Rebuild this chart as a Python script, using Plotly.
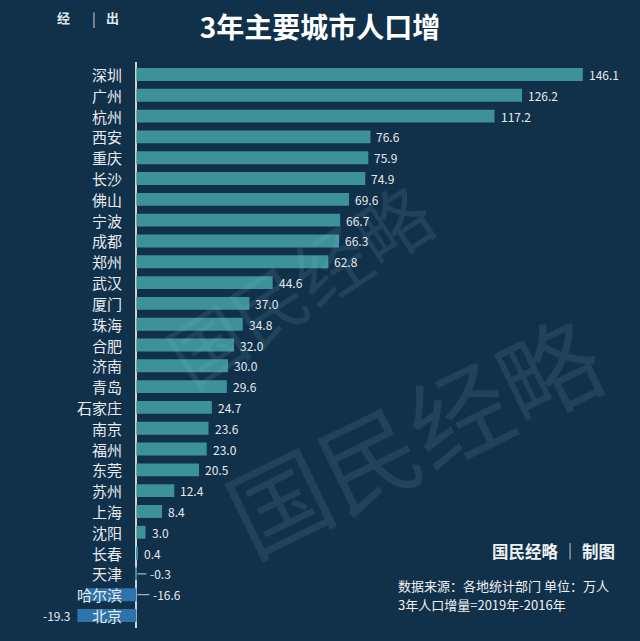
import plotly.graph_objects as go

cities = ["深圳", "广州", "杭州", "西安", "重庆", "长沙", "佛山", "宁波", "成都", "郑州",
          "武汉", "厦门", "珠海", "合肥", "济南", "青岛", "石家庄", "南京", "福州", "东莞",
          "苏州", "上海", "沈阳", "长春", "天津", "哈尔滨", "北京"]
values = [146.1, 126.2, 117.2, 76.6, 75.9, 74.9, 69.6, 66.7, 66.3, 62.8,
          44.6, 37.0, 34.8, 32.0, 30.0, 29.6, 24.7, 23.6, 23.0, 20.5,
          12.4, 8.4, 3.0, 0.4, -0.3, -16.6, -19.3]
highlight = ["哈尔滨", "北京"]

BG = "#11304a"
TEAL = "#3d9199"
BLUE = "#2e73ab"
FONT = "Noto Sans CJK SC"

L, R, T, B = 60, 610, 62, 628  # plot area in pixels

colors = [BLUE if c in highlight else TEAL for c in cities]

fig = go.Figure(go.Bar(
    x=values, y=cities, orientation="h",
    marker=dict(color=colors, line=dict(width=0)),
    hoverinfo="skip",
))

ann = []
shapes = []
for c, v in zip(cities, values):
    ann.append(dict(x=0, y=c, xref="x", yref="y", text=c, showarrow=False,
                    xanchor="right", xshift=-12,
                    font=dict(family=FONT, size=15, color="#e6ebef")))
    if v >= 0:
        ann.append(dict(x=v, y=c, xref="x", yref="y", text=f"{v:.1f}", showarrow=False,
                        xanchor="left", xshift=4,
                        font=dict(family=FONT, size=12, color="#e6ebef")))
    elif v > -18:
        lead = 10 if v > -1 else 13
        shapes.append(dict(type="line", xref="x", yref="y", xsizemode="pixel",
                           xanchor=0, x0=1, x1=lead, y0=c, y1=c,
                           line=dict(color="#c8d2da", width=1)))
        ann.append(dict(x=0, y=c, xref="x", yref="y", text=f"{v:.1f}", showarrow=False,
                        xanchor="left", xshift=lead + 2,
                        font=dict(family=FONT, size=12, color="#e6ebef")))
    else:
        ann.append(dict(x=v, y=c, xref="x", yref="y", text=f"{v:.1f}", showarrow=False,
                        xanchor="right", xshift=-5,
                        font=dict(family=FONT, size=12, color="#e6ebef")))


def add_abs(xpix, ypix, text, size, anchor="left", bold=False, color="#e6ebef", angle=0):
    ann.append(dict(x=(xpix - L) / (R - L), y=(B - ypix) / (B - T),
                    xref="paper", yref="paper",
                    text=f"<b>{text}</b>" if bold else text, showarrow=False,
                    xanchor=anchor, yanchor="middle", textangle=angle,
                    font=dict(family=FONT, size=size, color=color)))


# watermarks
add_abs(298, 282, "国民经略", 74, anchor="center", color="rgba(150,200,210,0.12)", angle=-33)
add_abs(412, 432, "国民经略", 100, anchor="center", color="rgba(150,200,210,0.12)", angle=-26)

# header / footer texts
add_abs(55, 18, "经", 13, bold=True, color="#dfe6ec")
add_abs(90, 18, "|", 14, color="#c8d2da")
add_abs(104, 18, "出", 13, bold=True, color="#dfe6ec")

add_abs(617, 551, "国民经略 │ 制图", 16.5, anchor="right", bold=True, color="#eef2f5")
add_abs(396, 585, "数据来源：各地统计部门 单位：万人", 13, color="#eef2f5")
add_abs(396, 604, "3年人口增量=2019年-2016年", 13, color="#eef2f5")

fig.update_layout(
    width=640, height=641,
    paper_bgcolor=BG, plot_bgcolor=BG,
    margin=dict(l=L, r=640 - R, t=T, b=641 - B),
    showlegend=False,
    bargap=0.38,
    xaxis=dict(range=[-25, 155], showgrid=False, showticklabels=False, ticks="",
               zeroline=True, zerolinecolor="#c8d2da", zerolinewidth=1.5, fixedrange=True),
    yaxis=dict(categoryorder="array", categoryarray=cities, autorange="reversed",
               showticklabels=False, showgrid=False, ticks="", zeroline=False, fixedrange=True),
    title=dict(text="<b>3年主要城市人口增</b>", x=0.5, xanchor="center",
               y=1 - 28 / 641, yanchor="middle", yref="container",
               font=dict(family=FONT, size=28, color="#ffffff")),
    annotations=ann,
    shapes=shapes,
)

fig.write_html("out.html", config={"displayModeBar": False})
